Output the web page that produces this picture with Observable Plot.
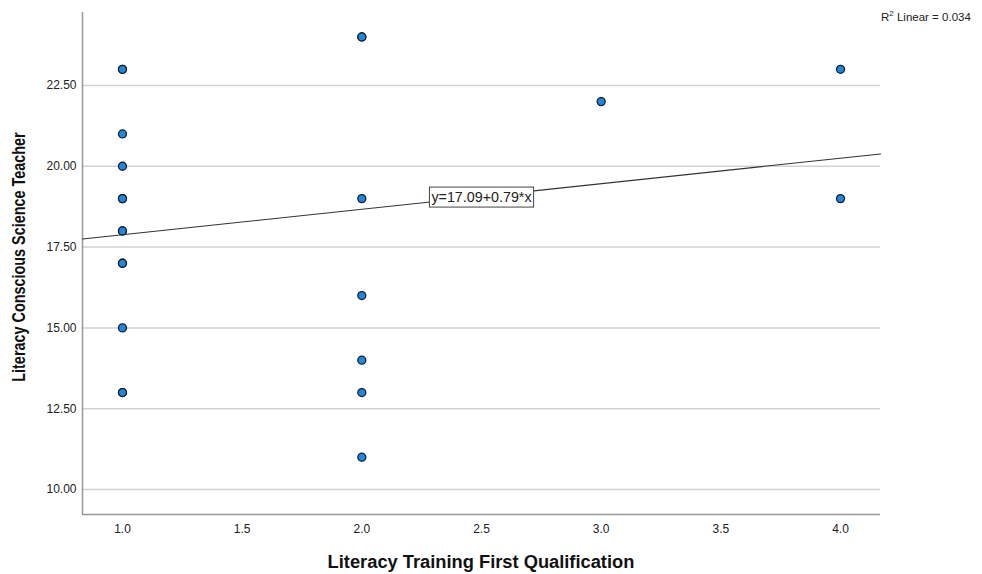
<!DOCTYPE html>
<html><head><meta charset="utf-8">
<script src="https://cdn.jsdelivr.net/npm/d3@7"></script>
<script src="https://cdn.jsdelivr.net/npm/@observablehq/plot@0.6"></script>
<style>
body{margin:0;background:#fff;font-family:"Liberation Sans",Arial,sans-serif;}
#wrap{position:relative;width:982px;height:574px;overflow:hidden;}
#r2{position:absolute;left:881px;top:11px;font-size:11.5px;color:#222;white-space:nowrap;}
#r2 sup{font-size:8px;vertical-align:5px;line-height:0;}
#xt{position:absolute;left:82px;width:798px;top:551px;text-align:center;font-weight:bold;font-size:18.3px;line-height:22px;color:#111;}
#yt{position:absolute;left:19px;top:257px;transform:translate(-50%,-50%) rotate(-90deg) scaleX(0.8);white-space:nowrap;font-weight:bold;font-size:18px;line-height:22px;color:#111;}
svg{display:block;}
</style></head>
<body><div id="wrap">
<div id="r2">R<sup>2</sup> Linear = 0.034</div>
<div id="xt">Literacy Training First Qualification</div>
<div id="yt">Literacy Conscious Science Teacher</div>
</div>
<script>
// Data (overlapping dots appear as darker rings = duplicates)
const xValues = [1,1,1,1,1,1,1,1,1,1,1,1,1, 2,2,2,2,2,2,2, 3, 4,4];
const yValues = [23,23,21,20,19,19,18,18,17,17,15,13,13, 24,24,19,16,14,13,11, 22, 23,19];
const intercept = 17.09;
const slope = 0.79;
const equationLabel = "y=17.09+0.79*x";
const equationAtX = 2.5;
const xTicks = [1.0,1.5,2.0,2.5,3.0,3.5,4.0];
const yTicks = [10,12.5,15,17.5,20,22.5];

const points = xValues.map((x,i)=>({x, y:yValues[i]}));
const xDomain = [0.833, 4.167];
const yDomain = [9.227, 24.757];
const fitLine = xDomain.map(x=>({x, y:intercept+slope*x}));
const eq = [{x:equationAtX, y:intercept+slope*equationAtX, label:equationLabel}];

const chart = Plot.plot({
  width:982, height:574,
  marginLeft:82, marginRight:102, marginTop:12, marginBottom:60,
  style:{fontFamily:'"Liberation Sans",Arial,sans-serif', fontSize:"12px", color:"#222", background:"#fff"},
  x:{domain:xDomain},
  y:{domain:yDomain},
  marks:[
    Plot.ruleY(yTicks,{stroke:"#d2d2d2", strokeWidth:1.5}),
    Plot.ruleX([xDomain[0]],{stroke:"#999", strokeWidth:1.5}),
    Plot.ruleY([yDomain[0]],{stroke:"#999", strokeWidth:1.5}),
    Plot.axisX({ticks:xTicks, tickSize:0, tickPadding:10, tickFormat:d3.format(".1f"), label:null}),
    Plot.axisY({ticks:yTicks, tickSize:0, tickPadding:6, tickFormat:d3.format(".2f"), label:null}),
    Plot.line(fitLine,{x:"x", y:"y", stroke:"#333", strokeWidth:1.1}),
    Plot.dot(points,{x:"x", y:"y", r:4, fill:"#1d88e2", stroke:"#1c1c1c", strokeWidth:1.3}),
    Plot.text(eq,{x:"x", y:"y", dy:1, text:"label", fontSize:14.3, fill:"#222"})
  ]
});
document.getElementById("wrap").prepend(chart);
// draw a box behind the equation label
const t = Array.from(chart.querySelectorAll("text")).find(e => e.textContent === equationLabel);
if (t) {
  const bb = t.getBBox();
  const ns = "http://www.w3.org/2000/svg";
  const r = document.createElementNS(ns,"rect");
  r.setAttribute("x", bb.x-2); r.setAttribute("y", bb.y-2);
  r.setAttribute("width", bb.width+4); r.setAttribute("height", bb.height+4);
  r.setAttribute("fill","#fff"); r.setAttribute("stroke","#444"); r.setAttribute("stroke-width","1");
  const tr = t.getAttribute("transform");
  if (tr) r.setAttribute("transform", tr);
  t.parentNode.insertBefore(r, t);
}
</script>
</body></html>
